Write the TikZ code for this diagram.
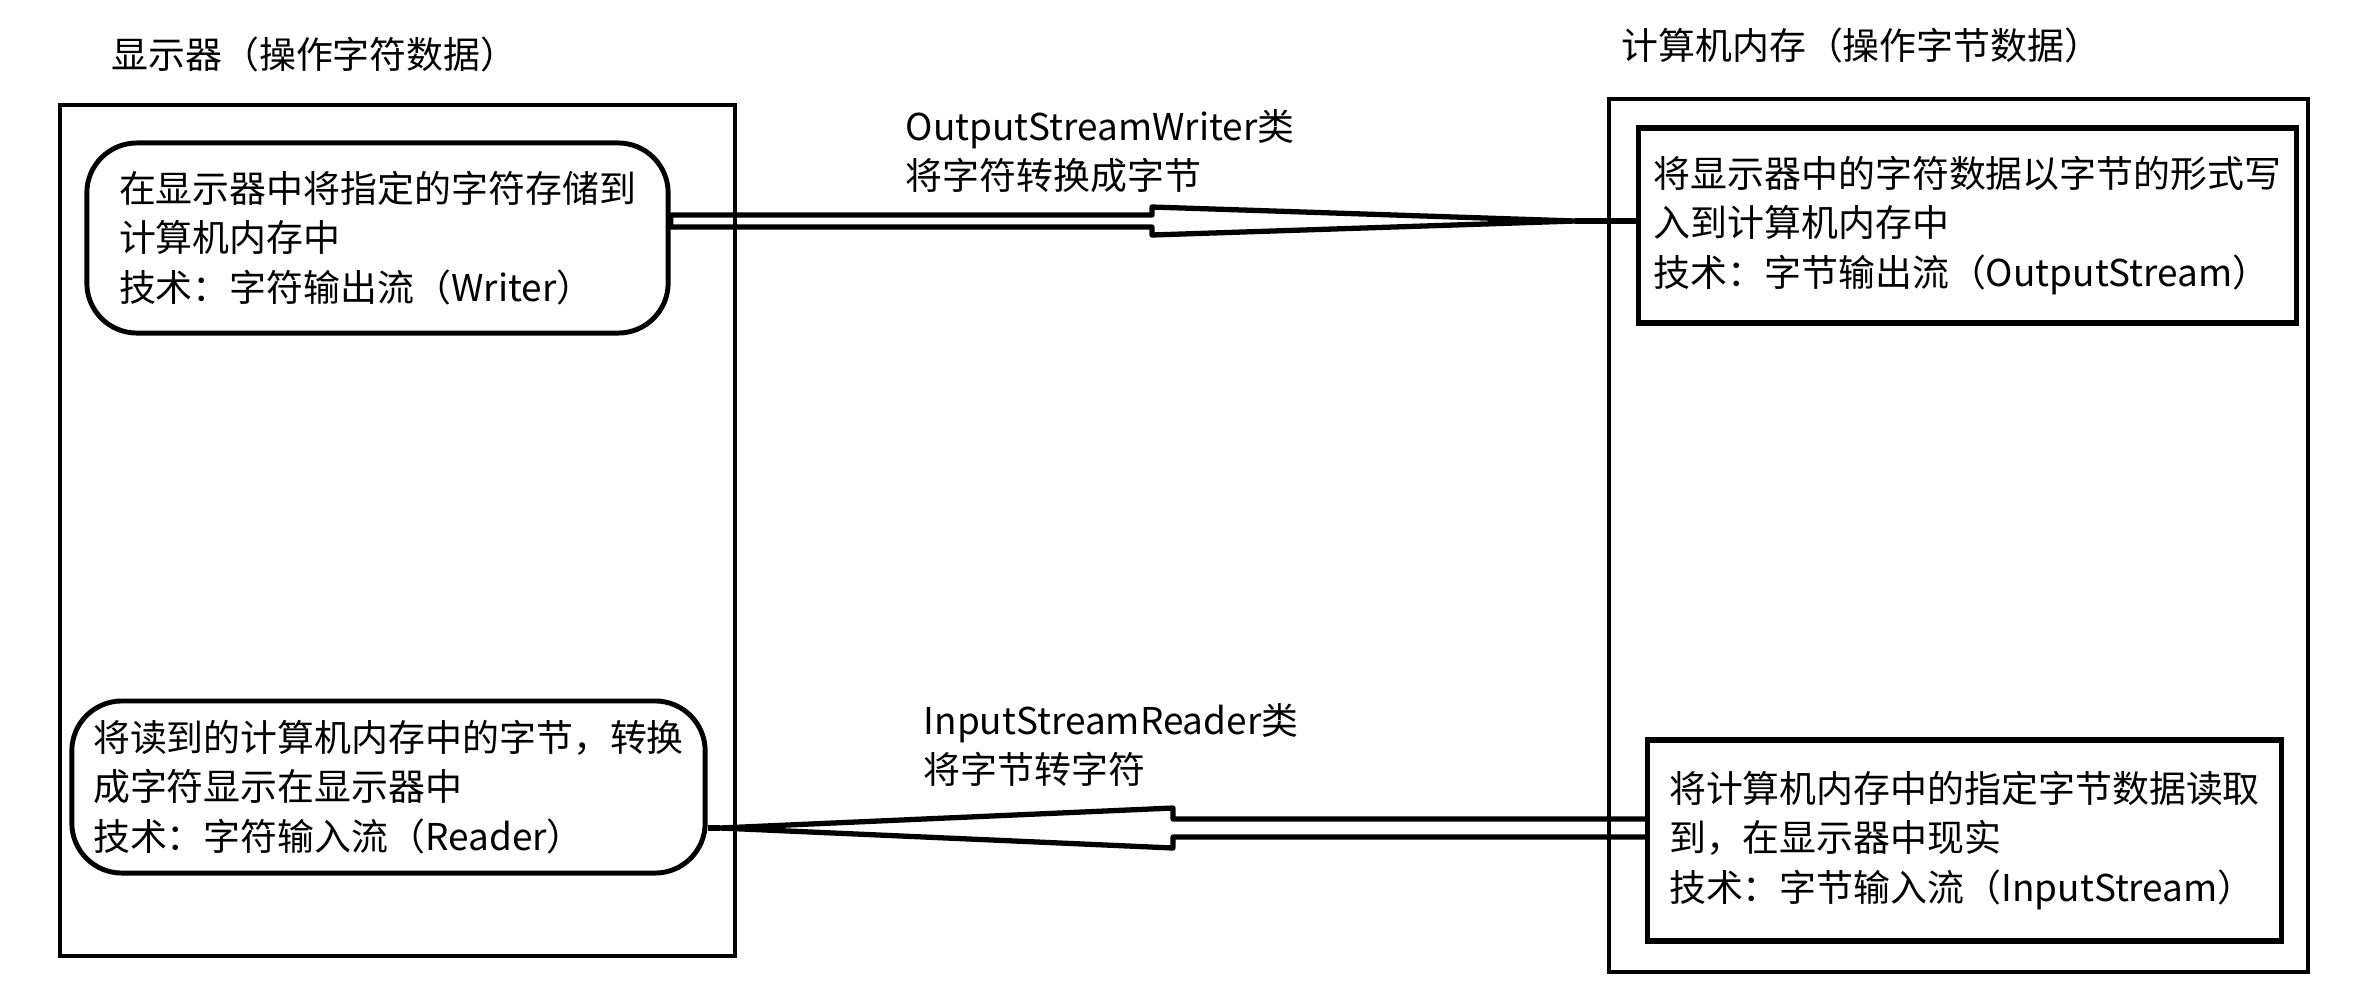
\documentclass[tikz,border=0pt]{standalone}
\usepackage{fontspec}
\setmainfont{Noto Sans CJK SC}
\usetikzlibrary{positioning, calc}

\begin{document}
\begin{tikzpicture}[
        x=0.01cm, y=-0.01cm,
        font=\fontsize{10.5pt}{14pt}\selectfont,
        frame/.style={rectangle, draw, line width=1.2pt},
        roundbox/.style={rectangle, draw, line width=1.4pt, rounded corners=0.5cm, align=left},
        squarebox/.style={rectangle, draw, line width=1.5pt, align=left},
        title/.style={inner sep=0pt},
        note/.style={inner sep=0pt, align=left, anchor=west},
        pipe/.style={draw, line width=1.5pt, line join=round}
    ]
    \useasboundingbox (0,0) rectangle (2353,1002);

    % outer frames
    \node (disp) [frame, minimum width=6.75cm, minimum height=8.51cm] at (397.5,530.5) {};
    \node (mem) [frame, minimum width=6.99cm, minimum height=8.73cm] at (1958.5,535.5) {};
    \node (disptitle) [title, above right=3mm and 5.3mm of disp.north west] {显示器（操作字符数据）};
    \node (memtitle) [title, above right=3.3mm and 1.4mm of mem.north west] {计算机内存（操作字节数据）};

    % inner boxes
    \node (wr) [roundbox, minimum width=5.81cm, minimum height=1.9cm] at (377.5,238)
        {在显示器中将指定的字符存储到\\计算机内存中\\技术：字符输出流（Writer）};
    \node (rd) [roundbox, minimum width=6.33cm, minimum height=1.72cm] at (388.5,787)
        {将读到的计算机内存中的字节，转换\\成字符显示在显示器中\\技术：字符输入流（Reader）};
    \node (os) [squarebox, minimum width=6.57cm, minimum height=1.95cm] at (1967.5,225.5)
        {将显示器中的字符数据以字节的形式写\\入到计算机内存中\\技术：字节输出流（OutputStream）};
    \node (is) [squarebox, minimum width=6.33cm, minimum height=2.01cm] at (1964.5,840.5)
        {将计算机内存中的指定字节数据读取\\到，在显示器中现实\\技术：字节输入流（InputStream）};

    % writer arrow
    \coordinate (wbase) at (1152,221);
    \coordinate (wtip) at (1575,221);
    \draw [pipe] ($(wr.east |- wbase)+(0,-6)$) -- ($(wbase)+(0,-6)$) -- ($(wbase)+(0,-14)$)
        -- (wtip) -- ($(wbase)+(0,14)$) -- ($(wbase)+(0,6)$) -- ($(wr.east |- wbase)+(0,6)$) -- cycle;
    \draw [pipe] (wtip) -- (wtip -| os.west);
    \node (wrnote) [note] at (905,151) {OutputStreamWriter类\\将字符转换成字节};

    % reader arrow
    \coordinate (rbase) at (1173,828);
    \coordinate (rtip) at (720,828);
    \draw [pipe] ($(is.west |- rbase)+(0,-9)$) -- ($(rbase)+(0,-9)$) -- ($(rbase)+(0,-20)$)
        -- (rtip) -- ($(rbase)+(0,20)$) -- ($(rbase)+(0,9)$) -- ($(is.west |- rbase)+(0,9)$);
    \draw [pipe] (rtip) -- (rtip -| rd.east);
    \node (rdnote) [note] at (923,745) {InputStreamReader类\\将字节转字符};

\end{tikzpicture}
\end{document}
